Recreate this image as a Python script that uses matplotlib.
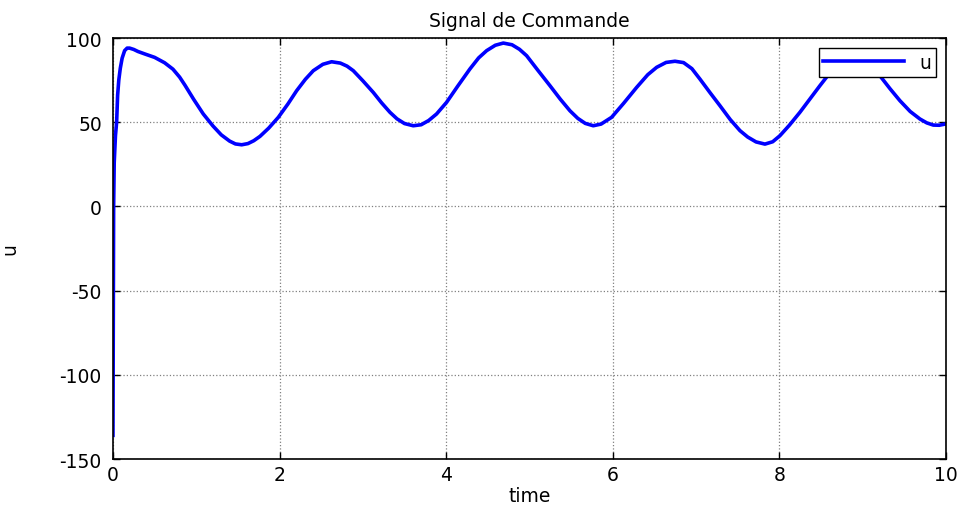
import matplotlib
matplotlib.use("Agg")
import matplotlib.pyplot as plt

plt.rcParams['font.family'] = ['DejaVu Sans']
plt.rcParams['axes.unicode_minus'] = False

# control signal u(t)
time = [0, 0.008, 0.015, 0.03, 0.044, 0.056, 0.07, 0.088, 0.11, 0.14, 0.17, 0.2, 0.25,
        0.3, 0.384, 0.5, 0.62, 0.72, 0.8, 0.864, 0.97, 1.084, 1.2, 1.3, 1.4, 1.47,
        1.545, 1.62, 1.69, 1.765, 1.87, 1.985, 2.1, 2.205, 2.31, 2.405, 2.52, 2.625,
        2.73, 2.81, 2.885, 3.0, 3.125, 3.225, 3.325, 3.41, 3.5, 3.605, 3.7, 3.79,
        3.885, 4.005, 4.14, 4.285, 4.39, 4.486, 4.59, 4.686, 4.79, 4.88, 4.966,
        5.1, 5.246, 5.37, 5.486, 5.58, 5.67, 5.766, 5.86, 5.986, 6.13, 6.287,
        6.42, 6.527, 6.64, 6.747, 6.85, 6.95, 7.047, 7.17, 7.287, 7.41, 7.527,
        7.62, 7.72, 7.827, 7.92, 8.007, 8.12, 8.247, 8.37, 8.487, 8.627, 8.75,
        8.9, 9.05, 9.207, 9.33, 9.447, 9.57, 9.688, 9.77, 9.848, 9.92, 10]
u = [-136, 0, 26, 42, 50, 66, 75, 82, 88, 92.5, 94, 94, 93.2,
     92, 90.5, 88.5, 85.3, 81.5, 76.8, 72, 63.5, 54.9, 47.8, 42.5, 38.8, 37.1,
     36.6, 37.3, 39, 41.6, 46.5, 52.9, 60.8, 68.7, 75.5, 80.6, 84.4, 85.9,
     85.1, 83.3, 80.6, 74.6, 67.7, 61.5, 55.9, 52, 49.2, 47.9, 48.5, 51,
     54.9, 61.8, 71.5, 81.6, 88.2, 92.5, 95.7, 97, 96, 93.3, 89.5,
     80.9, 71.7, 63.7, 56.8, 52.3, 49.3, 47.9, 48.9, 52.9, 61.2, 70.7,
     78.2, 82.6, 85.5, 86.2, 85.4, 81.8, 75.6, 67.4, 59.8, 51.6, 45,
     41.2, 38.3, 37, 38.4, 42, 48.2, 55.9, 64, 71.7, 80.6, 87.3,
     91.5, 88.8, 77.6, 69.8, 62.8, 56.4, 51.9, 49.6, 48.3, 48.2, 49]

fig = plt.figure(figsize=(9.63, 5.06), dpi=100)
ax = fig.add_axes([0.1173, 0.0909, 0.8650, 0.8320])

ax.plot(time, u, color='#0000ff', lw=2.6, label='u')

ax.set_xlim(0, 10)
ax.set_ylim(-150, 100)
ax.set_xticks([0, 2, 4, 6, 8, 10])
ax.set_yticks([-150, -100, -50, 0, 50, 100])
ax.tick_params(direction='in', length=5, width=1, labelsize=13.5,
               top=True, right=True, pad=8)
ax.tick_params(axis='x', pad=4)
ax.grid(True, color='#808080', linestyle=':', linewidth=0.9)
for s in ax.spines.values():
    s.set_linewidth(1.2)

ax.set_title('Signal de Commande', fontsize=13.5, pad=9)
ax.set_xlabel('time', fontsize=13.5, labelpad=2)
ax.set_ylabel('u', fontsize=13.5)
ax.yaxis.set_label_coords(-0.112, 0.5)

leg = ax.legend(loc='upper right', fontsize=13.5, fancybox=False,
                edgecolor='black', framealpha=1, handlelength=4.3,
                borderpad=0.25, borderaxespad=0.55)
leg.get_frame().set_linewidth(1.0)

fig.savefig('out.png', dpi=100)
